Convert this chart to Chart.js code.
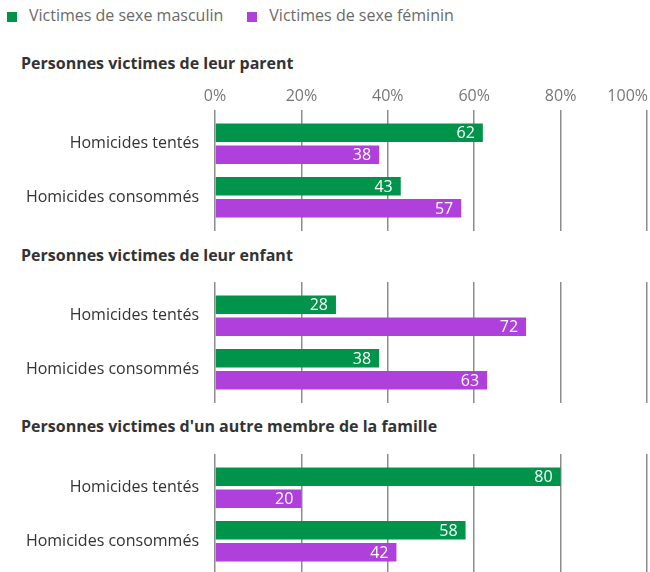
<!DOCTYPE html>
<html lang="fr">
<head>
  <meta charset="UTF-8">
  <title>Victimes d'homicides intrafamiliaux</title>
  <script src="https://cdn.jsdelivr.net/npm/chart.js@4"></script>
  <style>
    html, body { margin: 0; padding: 0; background: #fff; overflow: hidden; }
    body { width: 650px; height: 572px; position: relative; font-family: 'Open Sans', sans-serif; }
    .legend { position: absolute; top: 5px; left: 7px; font-size: 16px; line-height: 20px; color: #6a6a6a; white-space: nowrap; }
    .legend span.sw { display: inline-block; width: 10px; height: 10px; vertical-align: -1px; margin-right: 12px; }
    .legend span.item { margin-right: 24px; }
    .title { position: absolute; left: 21px; font-size: 16px; font-weight: bold; line-height: 20px; color: #333; white-space: nowrap; }
    .panel { position: absolute; left: 0; width: 650px; }
  </style>
</head>
<body>
  <div class="legend" id="legend"></div>
  <div class="title" id="t0" style="top:53px"></div>
  <div class="panel" style="top:80px;height:152px"><canvas id="c0"></canvas></div>
  <div class="title" id="t1" style="top:245px"></div>
  <div class="panel" style="top:281px;height:123px"><canvas id="c1"></canvas></div>
  <div class="title" id="t2" style="top:416px"></div>
  <div class="panel" style="top:453px;height:123px"><canvas id="c2"></canvas></div>
  <script>
    const seriesNames = ['Victimes de sexe masculin', 'Victimes de sexe féminin'];
    const seriesColors = ['#00944a', '#b040dc'];
    const categories = ['Homicides tentés', 'Homicides consommés'];
    const panelTitles = [
      'Personnes victimes de leur parent',
      'Personnes victimes de leur enfant',
      "Personnes victimes d'un autre membre de la famille"
    ];
    const maleParent = [62, 43];
    const femaleParent = [38, 57];
    const maleChild = [28, 38];
    const femaleChild = [72, 63];
    const maleOther = [80, 58];
    const femaleOther = [20, 42];
    const tickLabels = ['0%', '20%', '40%', '60%', '80%', '100%'];

    const panels = [
      [maleParent, femaleParent],
      [maleChild, femaleChild],
      [maleOther, femaleOther]
    ];

    // legend + titles as plain html
    document.getElementById('legend').innerHTML = seriesNames.map((n, i) =>
      `<span class="item"><span class="sw" style="background:${seriesColors[i]}"></span>${n}</span>`).join('');
    panelTitles.forEach((t, i) => document.getElementById('t' + i).textContent = t);

    const gridColor = '#8c8c8c';

    // white values at the end of each bar
    const valueLabels = {
      id: 'valueLabels',
      afterDatasetsDraw(chart) {
        const ctx = chart.ctx;
        ctx.save();
        ctx.font = '16px "Open Sans"';
        ctx.fillStyle = '#fff';
        ctx.textAlign = 'right';
        ctx.textBaseline = 'middle';
        chart.data.datasets.forEach((ds, di) => {
          chart.getDatasetMeta(di).data.forEach((bar, i) => {
            ctx.fillText(String(ds.data[i]), bar.x - 8, bar.y + 1);
          });
        });
        ctx.restore();
      }
    };

    // percent labels above the first panel, last one kept inside the frame
    const topTicks = {
      id: 'topTicks',
      afterDraw(chart, args, opts) {
        if (!opts.show) return;
        const sc = chart.scales.x;
        const ctx = chart.ctx;
        ctx.save();
        ctx.font = '16px "Open Sans"';
        ctx.fillStyle = '#777';
        ctx.textBaseline = 'middle';
        sc.ticks.forEach((t, i) => {
          const px = sc.getPixelForValue(t.value);
          const last = i === sc.ticks.length - 1;
          ctx.textAlign = last ? 'right' : 'center';
          ctx.fillText(tickLabels[i], last ? px + 1 : px, 16);
        });
        ctx.restore();
      }
    };

    panels.forEach((vals, p) => {
      new Chart(document.getElementById('c' + p), {
        type: 'bar',
        data: {
          labels: categories,
          datasets: vals.map((d, i) => ({
            label: seriesNames[i],
            data: d,
            backgroundColor: seriesColors[i],
            categoryPercentage: 0.82,
            barPercentage: 0.85
          }))
        },
        options: {
          indexAxis: 'y',
          responsive: true,
          maintainAspectRatio: false,
          animation: false,
          layout: { padding: { left: 0, right: 3, top: 0, bottom: 0 } },
          plugins: {
            legend: { display: false },
            tooltip: { enabled: false },
            topTicks: { show: p === 0 }
          },
          scales: {
            x: {
              position: 'top',
              min: 0, max: 100,
              ticks: { stepSize: 20, display: false },
              grid: { color: gridColor, lineWidth: 1.5, tickLength: 7, drawTicks: true },
              border: { display: false },
              afterFit: s => { s.height = p === 0 ? 37 : 8; }
            },
            x2: {
              position: 'bottom',
              min: 0, max: 100,
              ticks: { stepSize: 20, display: false },
              grid: { color: gridColor, lineWidth: 1.5, tickLength: 7, drawTicks: true, drawOnChartArea: false },
              border: { display: false },
              afterFit: s => { s.height = 8; }
            },
            y: {
              grid: { display: false },
              border: { display: false },
              ticks: { color: '#333', font: { family: 'Open Sans', size: 16 }, padding: 8 },
              afterFit: s => { s.width = 215; s.paddingTop = 0; s.paddingBottom = 0; }
            }
          }
        },
        plugins: [valueLabels, topTicks]
      });
    });
  </script>
</body>
</html>
